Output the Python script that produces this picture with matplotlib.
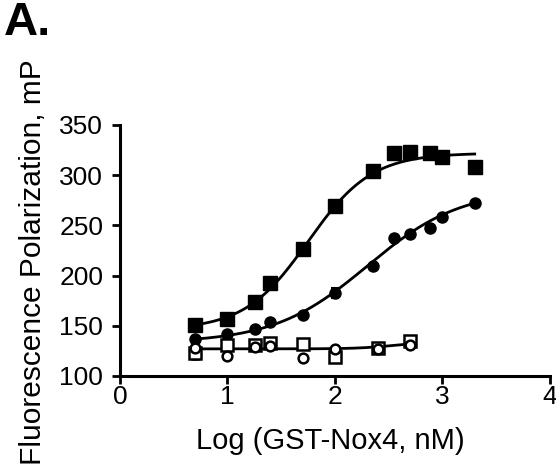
import numpy as np
import matplotlib
matplotlib.use('Agg')
import matplotlib.pyplot as plt

plt.rcParams['font.family'] = ['Liberation Sans', 'DejaVu Sans']

# log concentrations (nM)
x_full = np.array([0.70, 1.00, 1.26, 1.40, 1.70, 2.00, 2.35, 2.55, 2.70, 2.88, 3.00, 3.30])
sq_filled = np.array([151, 157, 174, 193, 226, 269, 304, 322, 323, 322, 318, 308])
circ_filled = np.array([137, 142, 147, 154, 161, 183, 210, 237, 241, 247, 258, 272])
circ_filled_err = np.array([2, 2, 2, 2, 2, 5, 2, 2, 2, 2, 2, 2])

x_open = np.array([0.70, 1.00, 1.26, 1.40, 1.70, 2.00, 2.40, 2.70])
sq_open = np.array([123, 131, 131, 133, 132, 119, 128, 135])
sq_open_err = np.array([6, 2, 2, 2, 2, 2, 2, 3])
circ_open = np.array([128, 120, 129, 130, 118, 127, 127, 131])
circ_open_err = np.array([6, 3, 2, 2, 3, 2, 2, 2])

# sigmoid fit parameters: bottom, top, logEC50, hill
fit_sq = (146, 322, 1.75, 1.47)
fit_circ = (133, 286, 2.30, 1.0)
fit_open = (127, 134, 2.55, 2.5)


def sigmoid(x, p):
    b, t, ec, h = p
    return b + (t - b) / (1 + 10 ** ((ec - x) * h))


fig = plt.figure(figsize=(5.56, 4.67), dpi=100)
ax = fig.add_axes([0.2158, 0.1949, 0.7733, 0.5375])

xs = np.linspace(0.70, 3.30, 200)
ax.plot(xs, sigmoid(xs, fit_sq), 'k-', lw=2)
ax.plot(xs, sigmoid(xs, fit_circ), 'k-', lw=2)
xo = np.linspace(0.70, 2.70, 200)
ax.plot(xo, sigmoid(xo, fit_open), 'k-', lw=2)

ax.plot(x_full, sq_filled, 'ks', ms=10, zorder=3)
ax.errorbar(x_full, circ_filled, yerr=circ_filled_err, fmt='ko', ms=8,
            elinewidth=1.5, capsize=3, capthick=1.5, zorder=3)
ax.errorbar(x_open, sq_open, yerr=sq_open_err, fmt='s', color='k', mfc='white',
            mec='k', mew=1.8, ms=8, elinewidth=1.5, capsize=3, capthick=1.5, zorder=4)
ax.errorbar(x_open, circ_open, yerr=circ_open_err, fmt='o', color='k', mfc='white',
            mec='k', mew=1.8, ms=7, elinewidth=1.5, capsize=3, capthick=1.5, zorder=4)

ax.set_xlim(0, 4)
ax.set_ylim(100, 350)
ax.set_xticks([0, 1, 2, 3, 4])
ax.set_yticks([100, 150, 200, 250, 300, 350])
for s in ['top', 'right']:
    ax.spines[s].set_visible(False)
for s in ['left', 'bottom']:
    ax.spines[s].set_linewidth(2.2)
ax.tick_params(axis='both', width=2, length=6, labelsize=19)
ax.tick_params(axis='x', pad=0.5)
ax.tick_params(axis='y', pad=6)

ax.set_xlabel('Log (GST-Nox4, nM)', fontsize=21)
ax.set_ylabel('Fluorescence Polarization, mP', fontsize=21.5)
ax.xaxis.set_label_coords(0.49, -0.205)
ax.yaxis.set_label_coords(-0.17, 0.454)

fig.text(0.006, 0.998, 'A.', fontsize=34, fontweight='bold', va='top', ha='left')

fig.savefig('out.png', dpi=100)
